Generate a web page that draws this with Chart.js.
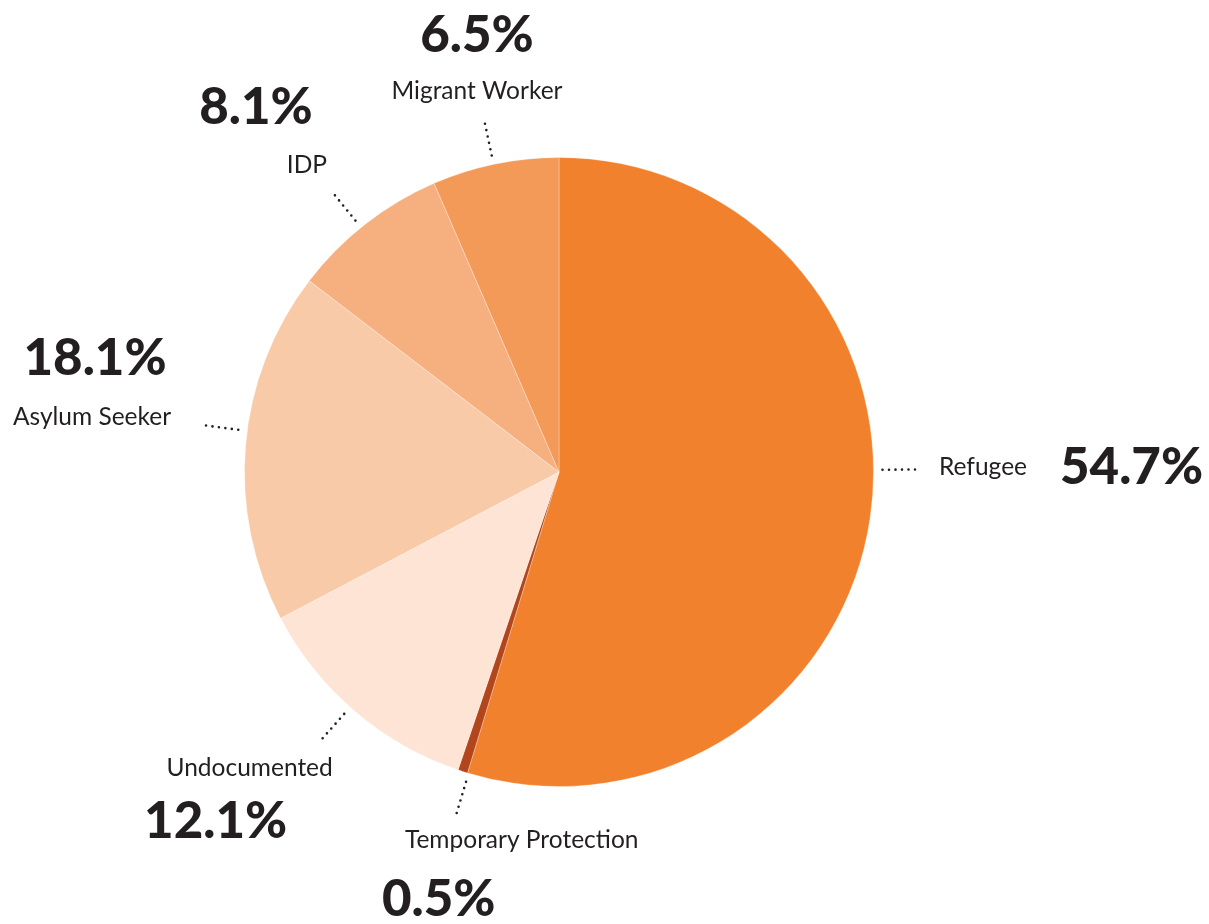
<!DOCTYPE html>
<html>
<head>
<meta charset="utf-8">
<script src="https://cdn.jsdelivr.net/npm/chart.js@4"></script>
<style>
html,body{margin:0;padding:0;background:#fff;}
#wrap{width:1209px;height:924px;}
</style>
</head>
<body>
<div id="wrap"><canvas id="c" width="1209" height="924"></canvas></div>
<script>
// ---- data ----
const categories = ['Refugee', 'Temporary Protection', 'Undocumented', 'Asylum Seeker', 'IDP', 'Migrant Worker'];
const shares = [54.7, 0.5, 12.1, 18.1, 8.1, 6.5];
const pctLabels = ['54.7%', '0.5%', '12.1%', '18.1%', '8.1%', '6.5%'];

// ---- styles ----
const sliceColors = ['#F2812D', '#B3451A', '#FDE4D5', '#F9CAA7', '#F6B07F', '#F49A58'];
// leader-line angle (deg, clockwise from top) and text offsets from the leader's outer end
const labelLayout = [
  {angle: 89.6,  lx: 24,   ly: 5,   px: 145,  py: 14,  align: 'left'},
  {angle: 196.7, lx: 65,   ly: 35,  px: -18,  py: 103, align: 'center'},
  {angle: 221.6, lx: -73,  ly: 38,  px: -107, py: 100, align: 'center'},
  {angle: 277.5, lx: -114, ly: -1,  px: -111, py: -51, align: 'center'},
  {angle: 321.0, lx: -28,  ly: -22, px: -79,  py: -71, align: 'center'},
  {angle: 348.0, lx: -8,   ly: -25, px: -8,   py: -72, align: 'center'}
];

const labelPlugin = {
  id: 'pieLabels',
  afterDatasetsDraw(chart) {
    const ctx = chart.ctx;
    const arc = chart.getDatasetMeta(0).data[0];
    const cx = arc.x, cy = arc.y, R = arc.outerRadius;
    ctx.save();
    categories.forEach((name, i) => {
      const L = labelLayout[i];
      const a = L.angle * Math.PI / 180;
      const x1 = cx + R * 1.008 * Math.sin(a), y1 = cy - R * 1.008 * Math.cos(a);
      const x2 = cx + R * 1.132 * Math.sin(a), y2 = cy - R * 1.132 * Math.cos(a);
      ctx.beginPath();
      ctx.setLineDash([0, 6.5]);
      ctx.lineCap = 'round';
      ctx.lineWidth = 2.6;
      ctx.strokeStyle = '#231F20';
      ctx.moveTo(x2, y2);
      ctx.lineTo(x1, y1);
      ctx.stroke();
      ctx.setLineDash([]);
      ctx.fillStyle = '#231F20';
      ctx.textAlign = L.align;
      ctx.textBaseline = 'alphabetic';
      ctx.font = '400 24.5px Lato, "Open Sans", sans-serif';
      ctx.fillText(name, x2 + L.lx, y2 + L.ly);
      ctx.font = '900 51px Lato, "DejaVu Sans", sans-serif';
      ctx.fillText(pctLabels[i], x2 + L.px, y2 + L.py);
    });
    ctx.restore();
  }
};

new Chart(document.getElementById('c'), {
  type: 'pie',
  data: {
    labels: categories,
    datasets: [{
      data: shares,
      backgroundColor: sliceColors,
      borderColor: 'rgba(255,255,255,0.3)',
      borderWidth: 1
    }]
  },
  options: {
    responsive: false,
    animation: false,
    layout: {padding: {top: 157, bottom: 137, left: 244, right: 335}},
    plugins: {legend: {display: false}, tooltip: {enabled: false}}
  },
  plugins: [labelPlugin]
});
</script>
</body>
</html>
